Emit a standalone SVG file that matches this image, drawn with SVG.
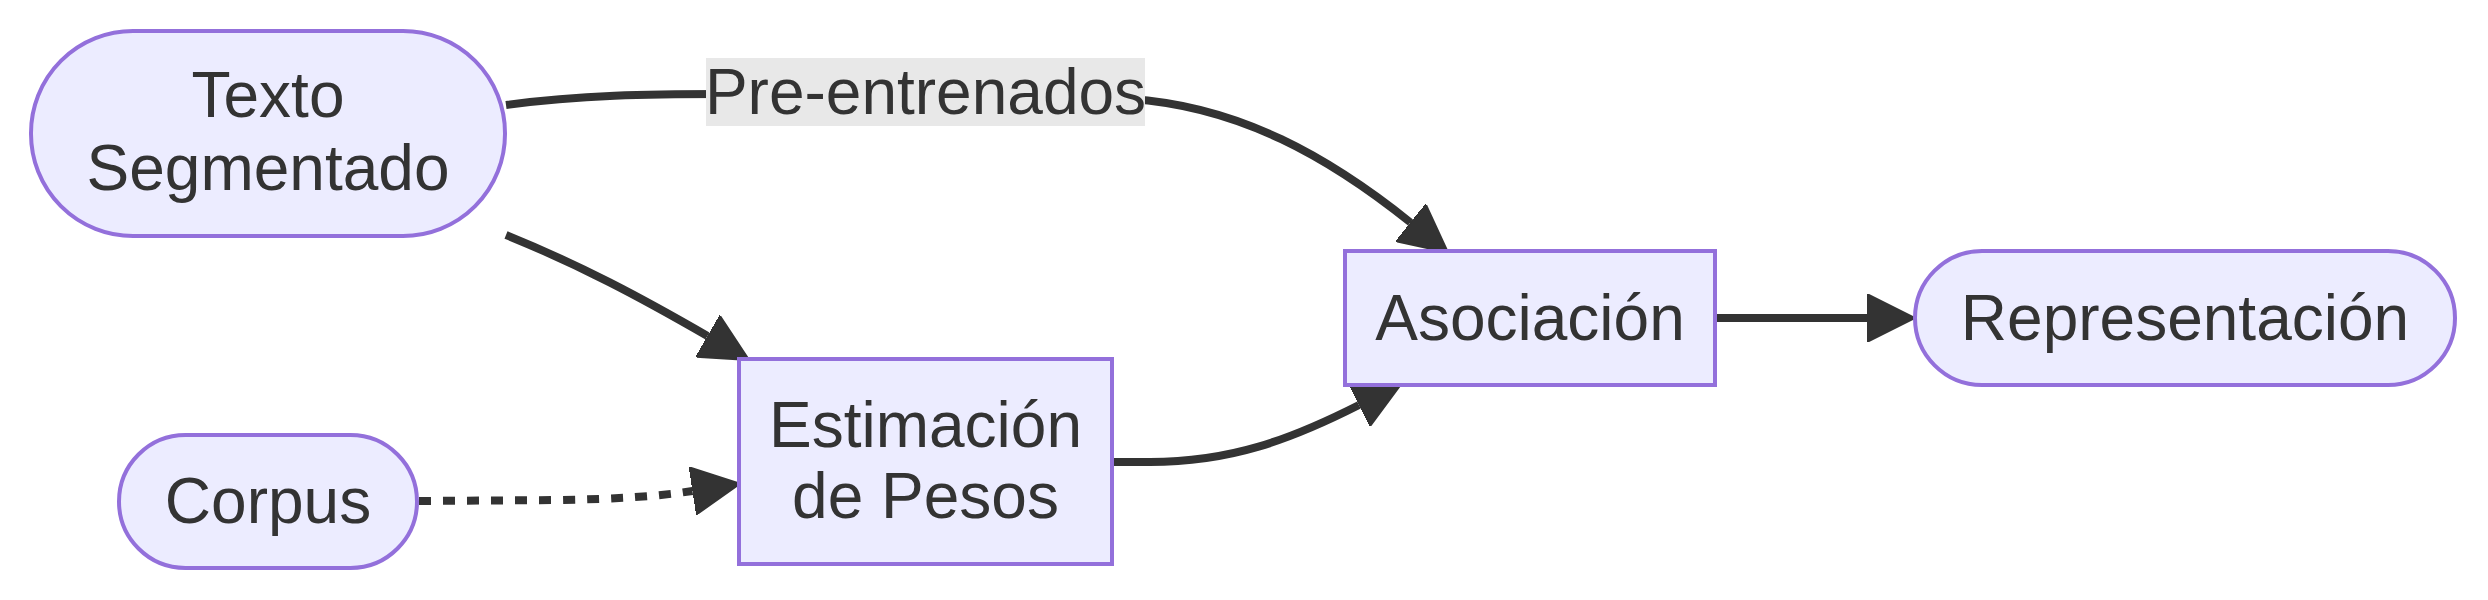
<svg xmlns="http://www.w3.org/2000/svg" width="2488" height="600" viewBox="0 0 2488 600">
<style>
.node rect{fill:#ECECFF;stroke:#9370DB;stroke-width:4}
.lbl{font-family:"Liberation Sans",Arial,sans-serif;font-size:64px;fill:#333;text-anchor:middle}
.edge{fill:none;stroke:#333;stroke-width:8}
.dotted{stroke-dasharray:12 12}
</style>
<defs>
<marker id="arrow" markerUnits="userSpaceOnUse" viewBox="0 0 10 10" refX="0" refY="5" markerWidth="48" markerHeight="48" orient="auto">
<path d="M0,0 L10,5 L0,10 z" fill="#333" stroke="#333" stroke-width="0.4" stroke-linejoin="round"/>
</marker>
</defs>
<rect width="2488" height="600" fill="#fff"/>
<g id="connectors">
<path class="edge" d="M506,105 C580,95 650,94 720,94 L1130,99 C1240,106 1330,158 1410.5,222.5" marker-end="url(#arrow)"/>
<path class="edge" d="M506,235 C580,265 640,297 707.5,336" marker-end="url(#arrow)"/>
<path class="edge dotted" d="M419,501 L560,500 C620,499 660,496 692.5,491" marker-end="url(#arrow)"/>
<path class="edge" d="M1112,462 L1150,462 C1230,462 1290,440 1359,405" marker-end="url(#arrow)"/>
<path class="edge" d="M1715,318 L1867,318" marker-end="url(#arrow)"/>
</g>
<g id="edge-label">
<rect x="706" y="58" width="439" height="68" fill="#e8e8e8"/>
<text class="lbl" x="925.5" y="114">Pre-entrenados</text>
</g>
<g id="texto" class="node">
<rect x="31" y="31" width="474" height="205" rx="102" ry="102"/>
<text class="lbl" x="268" y="117">Texto</text>
<text class="lbl" x="268" y="190">Segmentado</text>
</g>
<g id="corpus" class="node">
<rect x="119" y="435" width="298" height="133" rx="66.5" ry="66.5"/>
<text class="lbl" x="268" y="523">Corpus</text>
</g>
<g id="estimacion" class="node">
<rect x="739" y="359" width="373" height="205"/>
<text class="lbl" x="925.5" y="447">Estimación</text>
<text class="lbl" x="925.5" y="518">de Pesos</text>
</g>
<g id="asociacion" class="node">
<rect x="1345" y="251" width="370" height="134"/>
<text class="lbl" x="1530" y="340">Asociación</text>
</g>
<g id="representacion" class="node">
<rect x="1915" y="251" width="540" height="134" rx="67" ry="67"/>
<text class="lbl" x="2185" y="340">Representación</text>
</g>
</svg>
